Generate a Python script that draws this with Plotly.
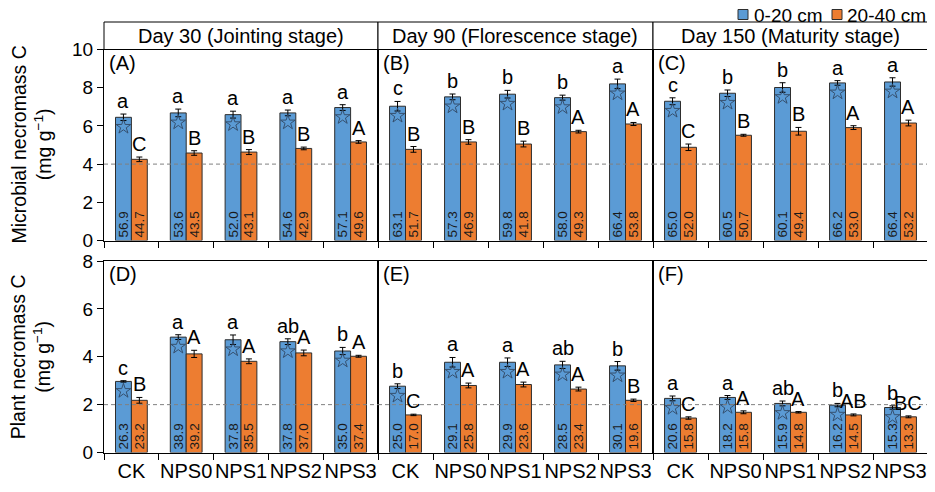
import plotly.graph_objects as go
from plotly.subplots import make_subplots

categories = ["CK", "NPS0", "NPS1", "NPS2", "NPS3"]
stages = ["Day 30 (Jointing stage)", "Day 90 (Florescence stage)", "Day 150 (Maturity stage)"]
panel_tags = [["(A)", "(B)", "(C)"], ["(D)", "(E)", "(F)"]]
depths = ["0-20 cm", "20-40 cm"]

# microbial necromass C (mg g-1), one list per stage
microbial_0_20 = [[6.45, 6.68, 6.59, 6.68, 6.96], [7.03, 7.52, 7.66, 7.48, 8.20], [7.29, 7.71, 8.01, 8.25, 8.30]]
microbial_0_20_se = [[0.17, 0.20, 0.18, 0.15, 0.15], [0.25, 0.15, 0.20, 0.13, 0.25], [0.18, 0.17, 0.25, 0.12, 0.22]]
microbial_20_40 = [[4.25, 4.58, 4.63, 4.82, 5.16], [4.77, 5.16, 5.05, 5.70, 6.10], [4.88, 5.51, 5.72, 5.91, 6.15]]
microbial_20_40_se = [[0.12, 0.12, 0.13, 0.07, 0.07], [0.15, 0.12, 0.15, 0.07, 0.08], [0.17, 0.05, 0.20, 0.10, 0.15]]
microbial_pct_0_20 = [["56.9", "53.6", "52.0", "54.6", "57.1"], ["63.1", "57.3", "59.8", "58.0", "66.4"], ["65.0", "60.5", "60.1", "66.2", "66.4"]]
microbial_pct_20_40 = [["44.7", "43.5", "43.1", "42.9", "49.6"], ["51.7", "46.9", "41.8", "49.3", "53.8"], ["52.0", "50.7", "49.4", "53.0", "53.2"]]
microbial_sig_0_20 = [["a", "a", "a", "a", "a"], ["c", "b", "b", "b", "a"], ["c", "b", "b", "a", "a"]]
microbial_sig_20_40 = [["C", "B", "B", "B", "A"], ["B", "B", "B", "A", "A"], ["C", "B", "B", "A", "A"]]

# plant necromass C (mg g-1)
plant_0_20 = [[2.97, 4.82, 4.71, 4.63, 4.24], [2.77, 3.77, 3.77, 3.66, 3.62], [2.26, 2.30, 2.05, 1.98, 1.88]]
plant_0_20_se = [[0.03, 0.10, 0.20, 0.12, 0.15], [0.10, 0.20, 0.18, 0.15, 0.18], [0.10, 0.08, 0.10, 0.07, 0.07]]
plant_20_40 = [[2.18, 4.12, 3.81, 4.16, 4.02], [1.57, 2.80, 2.84, 2.65, 2.18], [1.44, 1.68, 1.68, 1.57, 1.49]]
plant_20_40_se = [[0.12, 0.15, 0.10, 0.12, 0.04], [0.03, 0.10, 0.10, 0.08, 0.05], [0.05, 0.06, 0.03, 0.04, 0.04]]
plant_pct_0_20 = [["26.3", "38.9", "37.8", "37.8", "35.0"], ["25.0", "29.1", "29.9", "28.5", "30.1"], ["20.6", "18.2", "15.9", "16.2", "15.3"]]
plant_pct_20_40 = [["23.2", "39.2", "35.5", "37.0", "37.4"], ["17.0", "25.8", "23.6", "23.4", "19.6"], ["15.8", "15.8", "14.8", "14.5", "13.3"]]
plant_sig_0_20 = [["c", "a", "a", "ab", "b"], ["b", "a", "a", "ab", "b"], ["a", "a", "ab", "b", "b"]]
plant_sig_20_40 = [["B", "A", "A", "A", "A"], ["C", "A", "A", "A", "B"], ["C", "A", "A", "AB", "BC"]]

y_titles = ["Microbial necromass C<br>(mg g<sup>\u22121</sup>)", "Plant necromass C<br>(mg g<sup>\u22121</sup>)"]
y_ranges = [[0, 10], [0, 8]]
ref_lines = [4, 2]

BLUE = "#5b9bd5"
ORANGE = "#ed7d31"
EDGE = "#2e2e2e"
FONT = "Arial, Liberation Sans, sans-serif"

# the page body keeps an 8px margin; positions below are in window pixels
OFF = 8
W, H = 935 - OFF, 492 - OFF


def fx(px):
    return (px - OFF) / W


def fy(px):
    return 1 - (px - OFF) / H


col_px = [(104, 378), (378, 653), (653, 928)]
row_px = [(49.5, 240.5), (261, 452.5)]
header_top_px = 22
half = 0.145
star_drop = [0.5, 0.4]

rows = [
    (microbial_0_20, microbial_0_20_se, microbial_pct_0_20, microbial_sig_0_20,
     microbial_20_40, microbial_20_40_se, microbial_pct_20_40, microbial_sig_20_40),
    (plant_0_20, plant_0_20_se, plant_pct_0_20, plant_sig_0_20,
     plant_20_40, plant_20_40_se, plant_pct_20_40, plant_sig_20_40),
]

fig = make_subplots(rows=2, cols=3, horizontal_spacing=0, vertical_spacing=0.04)
idx = list(range(len(categories)))
annotations = []
shapes = []

for r, (b_val, b_se, b_pct, b_sig, o_val, o_se, o_pct, o_sig) in enumerate(rows):
    for c in range(3):
        xb = [i - half for i in idx]
        xo = [i + half for i in idx]
        for xs, vals, se, pct, color, name in [
            (xb, b_val[c], b_se[c], b_pct[c], BLUE, depths[0]),
            (xo, o_val[c], o_se[c], o_pct[c], ORANGE, depths[1]),
        ]:
            fig.add_trace(go.Bar(
                x=xs, y=vals, width=0.29, name=name,
                marker=dict(color=color, line=dict(color=EDGE, width=1)),
                error_y=dict(type="data", array=se, color="black", thickness=1, width=3),
                text=pct, textposition="inside", insidetextanchor="start",
                textangle=-90, constraintext="none",
                textfont=dict(size=13.5, color="#1a1a1a", family=FONT),
                showlegend=False, hoverinfo="skip",
            ), row=r + 1, col=c + 1)
        fig.add_trace(go.Scatter(
            x=xb, y=[v - star_drop[r] for v in b_val[c]], mode="markers",
            marker=dict(symbol="star-open", size=11, color="#35506f", line=dict(width=1)),
            showlegend=False, hoverinfo="skip",
        ), row=r + 1, col=c + 1)
        fig.add_hline(y=ref_lines[r], line=dict(color="#808080", width=1, dash="4px,3px"),
                      row=r + 1, col=c + 1)

        k = r * 3 + c + 1
        xr = "x" if k == 1 else f"x{k}"
        yr = "y" if k == 1 else f"y{k}"
        for i in idx:
            annotations.append(dict(x=xb[i], y=b_val[c][i] + b_se[c][i], xref=xr, yref=yr,
                                    text=b_sig[c][i], showarrow=False, xanchor="center",
                                    yanchor="bottom", yshift=0,
                                    font=dict(size=20, color="black", family=FONT)))
            annotations.append(dict(x=xo[i], y=o_val[c][i] + o_se[c][i], xref=xr, yref=yr,
                                    text=o_sig[c][i], showarrow=False, xanchor="center",
                                    yanchor="bottom", yshift=0,
                                    font=dict(size=20, color="black", family=FONT)))
        annotations.append(dict(x=0.01, y=0.998, xref=f"{xr} domain", yref=f"{yr} domain",
                                text=panel_tags[r][c], showarrow=False, xanchor="left", yanchor="top",
                                font=dict(size=20, color="black", family=FONT)))

        fig.update_xaxes(
            domain=[fx(col_px[c][0]), fx(col_px[c][1])], range=[-0.5, 4.5],
            tickvals=idx, ticktext=categories, ticks="", showticklabels=(r == 1),
            tickfont=dict(size=20, color="black", family=FONT),
            minor=dict(tickvals=[i - 0.5 for i in range(len(categories) + 1)], ticks="outside",
                       ticklen=6, tickcolor="black", tickwidth=1),
            showline=True, mirror=True, linecolor="black", linewidth=1, automargin=False,
            showgrid=False, zeroline=False, row=r + 1, col=c + 1)
        fig.update_yaxes(
            domain=[fy(row_px[r][1]), fy(row_px[r][0])], range=y_ranges[r], dtick=2,
            ticks="outside" if c == 0 else "", ticklen=6, tickcolor="black",
            showticklabels=(c == 0), tickfont=dict(size=19, color="black", family=FONT),
            showline=True, mirror=True, linecolor="black", linewidth=1, automargin=False,
            showgrid=False, zeroline=False, row=r + 1, col=c + 1)

# stage header boxes above the top row
for c in range(3):
    shapes.append(dict(type="rect", xref="paper", yref="paper",
                       x0=fx(col_px[c][0]), x1=fx(col_px[c][1]),
                       y0=fy(row_px[0][0]), y1=fy(header_top_px),
                       line=dict(color="black", width=1), fillcolor="white"))
    annotations.append(dict(x=fx((col_px[c][0] + col_px[c][1]) / 2),
                            y=fy((row_px[0][0] + header_top_px) / 2),
                            xref="paper", yref="paper", text=stages[c], showarrow=False,
                            xanchor="center", yanchor="middle",
                            font=dict(size=20, color="black", family=FONT)))

# y titles
for r in range(2):
    annotations.append(dict(x=fx(30.5), y=fy((row_px[r][0] + row_px[r][1]) / 2),
                            xref="paper", yref="paper", text=y_titles[r], textangle=-90,
                            xanchor="center", yanchor="middle", showarrow=False,
                            font=dict(size=19.5, color="black", family=FONT)))

# legend: small squares with labels
legend_items = [(738, 752, BLUE, depths[0]), (832, 845, ORANGE, depths[1])]
for sq_x, tx, color, label in legend_items:
    shapes.append(dict(type="rect", xref="paper", yref="paper",
                       x0=fx(sq_x), x1=fx(sq_x + 10), y0=fy(19.5), y1=fy(9.5),
                       line=dict(color=EDGE, width=1), fillcolor=color))
    annotations.append(dict(x=fx(tx), y=fy(15), xref="paper", yref="paper", text=label,
                            showarrow=False, xanchor="left", yanchor="middle",
                            font=dict(size=19, color="black", family=FONT)))

fig.update_layout(
    width=W, height=H, margin=dict(l=0, r=0, t=0, b=0),
    plot_bgcolor="white", paper_bgcolor="white", showlegend=False,
    barmode="overlay", font=dict(family=FONT, color="black"),
    shapes=list(fig.layout.shapes) + shapes, annotations=annotations,
)

fig.write_html("out.html")
